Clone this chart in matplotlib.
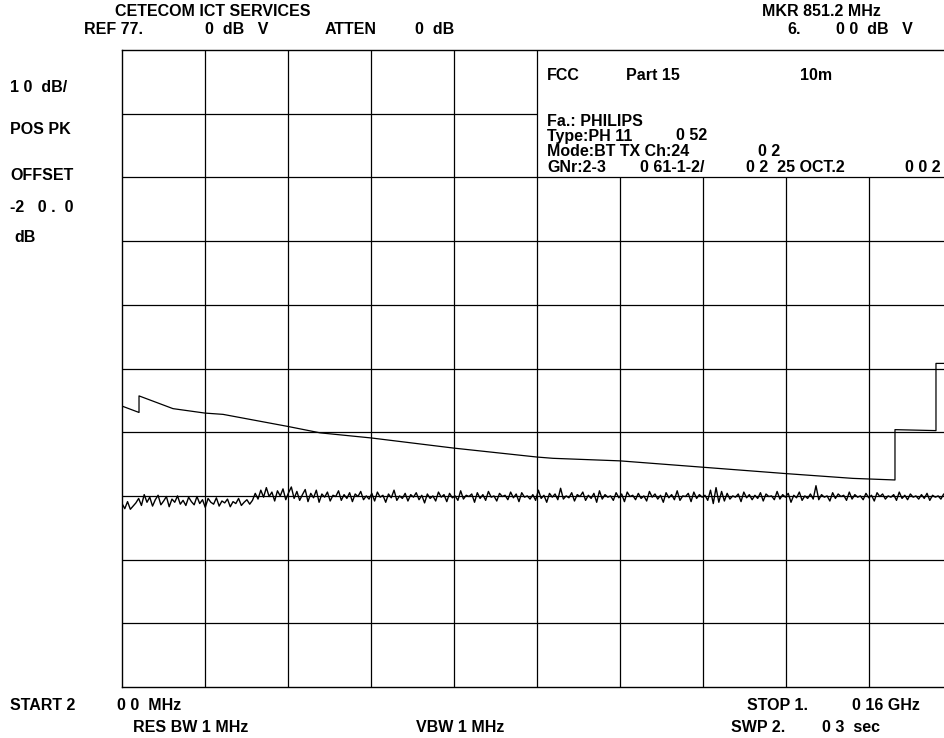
import numpy as np
import matplotlib
matplotlib.use("Agg")
import matplotlib.pyplot as plt

plt.rcParams['font.family'] = ['Liberation Sans', 'DejaVu Sans']

# === Analyzer settings ===
ref_level = 77.0      # dBuV, top of screen
db_per_div = 10.0
n_div = 10

# === Limit line (x in divisions, level in dB) ===
limit_x = [0.0, 0.205, 0.205, 0.614, 1.0, 1.217, 2.0, 2.386, 3.0, 4.0, 5.0, 5.193,
           6.0, 7.0, 8.0, 8.807, 9.313, 9.313, 9.807, 9.807, 10.0]
limit_db = [21.1, 20.1, 22.7, 20.7, 20.0, 19.8, 17.9, 16.9, 16.1, 14.5, 13.1, 12.9,
            12.5, 11.5, 10.5, 9.75, 9.5, 17.4, 17.25, 27.8, 27.8]

# === Measured trace (positive peak, dB) ===
trace_db = [
    5.8, 5.0, 6.1, 4.9, 5.4, 5.9, 6.6, 5.5, 7.2, 6.0, 6.8, 5.4, 6.4, 7.1, 5.6, 6.2, 6.9, 5.3, 6.5, 6.0,
    7.0, 5.7, 6.3, 5.5, 6.8, 6.1, 5.6, 6.9, 5.8, 6.4, 5.2, 6.6, 6.0, 5.7, 6.7, 5.4, 6.2, 5.9, 6.5, 5.3,
    6.1, 5.8, 6.6, 5.5, 6.0, 6.4, 5.7, 6.3,
    7.4, 6.5, 7.9, 6.8, 8.3, 6.9, 7.6, 6.2, 7.8, 7.0, 8.1, 6.4, 7.5, 8.4, 6.6, 7.7, 6.3, 7.2, 8.0, 6.1,
    7.4, 6.7, 7.9, 6.0, 7.3, 6.8, 7.6, 6.2, 7.1, 6.9, 7.8, 6.3, 7.2, 6.6, 7.5, 6.1, 7.3, 6.9, 7.7, 6.4,
    7.0, 6.5, 7.4, 6.2, 7.6, 6.8, 7.1, 6.0, 7.3, 6.7, 7.9, 6.3, 7.0, 6.6, 7.4, 6.2, 7.2, 6.8, 7.5, 6.4,
    7.1, 5.9, 7.3, 6.6, 7.0, 6.2, 7.6, 6.8, 7.2, 6.1, 7.4, 6.7, 7.0, 6.3, 7.8, 6.5, 7.1, 6.9, 7.3, 6.0,
    7.5, 6.6, 7.2, 6.3, 7.7, 6.8, 7.0, 6.2, 7.4, 6.9, 7.1, 6.4, 7.6, 6.7, 7.3, 6.1, 7.5, 6.8, 7.0, 6.5,
    7.2, 6.3, 7.9, 6.6, 7.1, 6.0, 7.4, 6.8, 7.3, 6.4, 8.2, 6.5, 7.0, 6.7, 7.5, 6.2, 7.2, 6.9, 7.6, 6.3,
    7.1, 6.6, 7.4, 6.0, 7.8, 6.5, 7.2, 6.8, 7.0, 6.3, 7.5, 6.7, 7.3, 6.1, 7.6, 6.9, 7.1, 6.4, 7.4, 6.6,
    7.0, 6.2, 7.7, 6.8, 7.3, 6.5, 7.1, 6.0, 7.5, 6.7, 7.2, 6.4, 7.8, 6.3, 7.0, 6.9, 7.4, 6.1, 7.6, 6.6,
    7.2, 6.8, 7.1, 6.3, 7.9, 5.8, 8.3, 6.0, 7.7, 6.2, 7.4, 6.5, 7.0, 6.8, 7.3, 6.1, 7.6, 6.7, 7.2, 6.4,
    7.1, 6.6, 7.5, 6.2, 7.3, 6.9, 7.0, 6.4, 7.7, 6.5, 7.2, 6.8, 7.4, 6.0, 7.1, 6.7, 7.6, 6.3, 7.0, 6.6,
    7.3, 6.5, 8.6, 6.4, 7.2, 6.8, 7.0, 6.2, 7.5, 6.6, 7.3, 6.9, 7.1, 6.3, 7.6, 6.5, 7.2, 6.8, 7.0, 6.4,
    7.4, 6.7, 7.1, 6.2, 7.5, 6.9, 7.3, 6.5, 7.0, 6.8, 7.2, 6.3, 7.6, 6.6, 7.1, 6.4, 7.3, 6.8, 7.0, 6.5,
    7.2, 6.6, 7.4, 6.3, 7.1, 6.8, 7.0, 6.5, 7.3, 6.7, 7.1, 6.4,
]

W, H = 944, 738
fig = plt.figure(figsize=(W / 100, H / 100), dpi=100)

# axes spans past the right edge, like the original screen dump
left, right, top, bottom = 122, 952, 50, 687
ax = fig.add_axes([left / W, 1 - bottom / H, (right - left) / W, (bottom - top) / H])
y_bot = ref_level - n_div * db_per_div
ax.set_xlim(0, n_div)
ax.set_ylim(y_bot, ref_level)
ax.set_xticks([])
ax.set_yticks([])
for s in ax.spines.values():
    s.set_linewidth(1.0)
    s.set_color('black')

# === Graticule (top right box left free for the header text) ===
box_left_div = 5
box_bottom = ref_level - 2 * db_per_div
for i in range(1, n_div):
    ytop = ref_level if i <= box_left_div else box_bottom
    ax.vlines(i, y_bot, ytop, color='black', lw=0.9)
for j in range(1, n_div):
    yv = ref_level - j * db_per_div
    xend = box_left_div if yv > box_bottom else n_div
    ax.hlines(yv, 0, xend, color='black', lw=0.9)

# === Traces ===
trace_x = np.linspace(0, n_div, len(trace_db))
ax.plot(trace_x, trace_db, color='black', lw=1.0)
ax.plot(limit_x, limit_db, color='black', lw=0.9)

# === Screen annotations ===
def t(x, y, s):
    fig.text(x / W, 1 - y / H, s, fontsize=11.5, fontweight='bold', va='center', ha='left')

t(115, 12, "CETECOM ICT SERVICES")
t(84, 30, "REF 77.")
t(205, 30, "0  dB   V")
t(325, 30, "ATTEN")
t(415, 30, "0  dB")
t(762, 12, "MKR 851.2 MHz")
t(787, 30, "6.")
t(836, 30, "0 0  dB   V")

t(10, 87, "1 0  dB/")
t(10, 130, "POS PK")
t(10, 175, "OFFSET")
t(10, 208, "-2   0 .  0")
t(14, 237, "dB")

t(547, 75, "FCC")
t(626, 75, "Part 15")
t(800, 75, "10m")
t(547, 121, "Fa.: PHILIPS")
t(547, 136, "Type:PH 11")
t(676, 136, "0 52")
t(547, 152, "Mode:BT TX Ch:24")
t(758, 152, "0 2")
t(547, 168, "GNr:2-3")
t(640, 168, "0 61-1-2/")
t(746, 168, "0 2  25 OCT.2")
t(905, 168, "0 0 2")

t(10, 705, "START 2")
t(117, 705, "0 0  MHz")
t(133, 727, "RES BW 1 MHz")
t(416, 727, "VBW 1 MHz")
t(747, 705, "STOP 1.")
t(852, 705, "0 16 GHz")
t(731, 727, "SWP 2.")
t(822, 727, "0 3  sec")

fig.savefig("out.png", dpi=100)
